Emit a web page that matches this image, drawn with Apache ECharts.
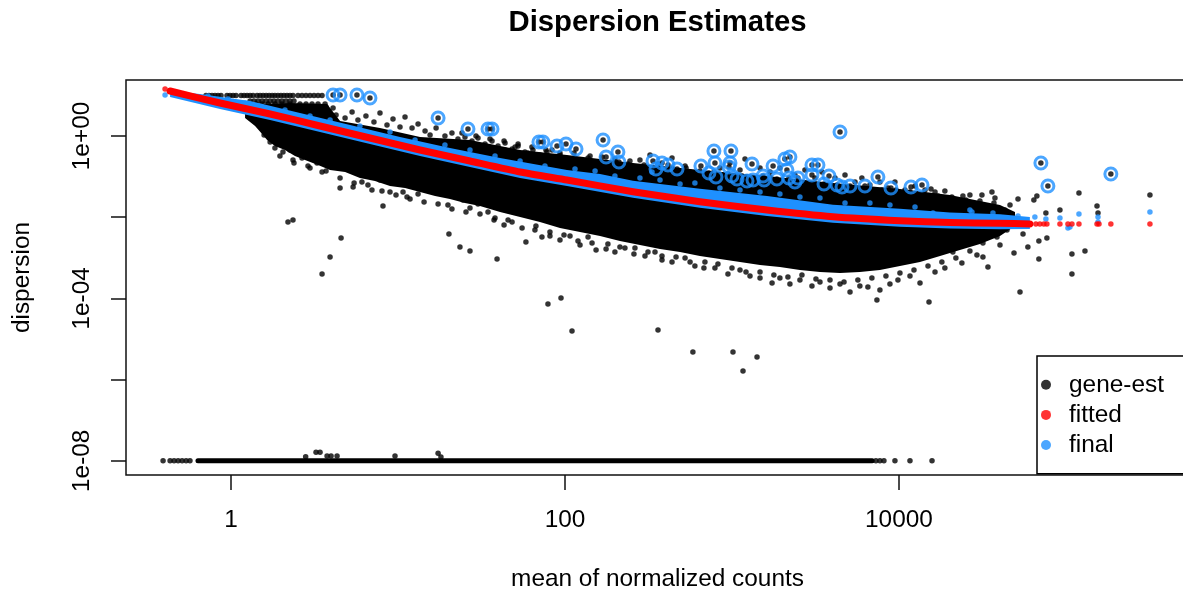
<!DOCTYPE html>
<html><head><meta charset="utf-8">
<script src="https://cdn.jsdelivr.net/npm/echarts@6/dist/echarts.min.js"></script>
<style>html,body{margin:0;padding:0;background:#fff}#c{width:1183px;height:593px}</style>
</head><body><div id="c"></div>
<script>
// All values are log10(mean of normalized counts) and log10(dispersion).
const xTickValues = [0, 2, 4];
const xTickLabels = ['1', '100', '10000'];
const yTickValues = [-8, -6, -4, -2, 0];
const yLabelValues = [-8, -4, 0];
const yTickLabels = ['1e-08', '1e-04', '1e+00'];
const legendNames = ['gene-est', 'fitted', 'final'];

// gene-est: genes at the maximum dispersion (10, log10 = 1)
const topRowMeans = [-0.150,-0.132,-0.114,-0.096,-0.078,-0.060,-0.024,-0.006,0.012,0.030,0.060,0.078,0.096,0.114,0.132,0.156,0.174,0.192,0.210,0.228,0.246,0.263,0.281,0.299,0.317,0.335,0.353,0.371,0.401,0.425,0.449,0.473,0.497,0.521,0.545];
const rowBMeans = [0.114,0.138,0.162,0.186,0.210,0.234,0.257,0.281,0.305,0.329,0.353,0.377];
const rowBDisp = 0.862;
const rowCMeans = [0.150,0.186,0.222,0.263,0.305,0.353,0.413,0.449,0.485,0.521,0.563];
const rowCDisp = 0.788;

// gene-est points above the fitted trend
const geneEstUpper = [[0.186,0.690],[0.234,0.640],[0.287,0.714],[0.341,0.616],[0.389,0.690],[0.443,0.591],[0.491,0.665],[0.533,0.542],[0.569,0.714],[0.611,0.690],[0.629,0.517],[0.683,0.443],[0.725,0.591],[0.760,0.394],[0.808,0.493],[0.856,0.345],[0.892,0.567],[0.934,0.271],[0.970,0.419],[1.012,0.222],[1.042,0.468],[1.084,0.197],[1.120,0.296],[1.162,0.123],[1.192,0.025],[1.228,0.197],[1.281,0.000],[1.323,0.074],[1.359,-0.074],[1.401,-0.025],[1.443,-0.123],[1.479,-0.049],[1.521,-0.197],[1.563,-0.123],[1.599,-0.246],[1.641,-0.172],[1.683,-0.320],[1.719,-0.246],[1.760,-0.394],[1.808,-0.345],[1.850,-0.468],[1.892,-0.394],[1.928,-0.542],[1.970,-0.468],
[1.641,-0.345],[1.701,-0.271],[1.778,-0.419],[1.880,-0.493],[1.922,-0.345],[2.060,-0.542],[2.150,-0.493],[2.210,-0.640],[2.299,-0.567],[2.377,-0.690],[2.449,-0.591],[2.509,-0.468],[2.599,-0.837],[2.641,-0.542],[2.719,-0.739],[2.749,-0.887],[2.928,-0.788],[3.048,-0.837],[3.078,-0.567],[3.168,-0.788],[3.228,-0.887],[3.287,-0.788],[3.377,-0.961],[3.437,-0.837],[3.497,-1.034],[3.539,-0.887],[3.617,-1.034],[3.677,-0.961],[3.737,-1.133],[3.778,-1.034],[3.826,-1.207],[3.886,-1.133],[3.934,-1.281],[3.976,-1.133],[4.036,-1.330],[4.096,-1.232],[4.156,-1.330],[4.216,-1.379],[4.275,-1.355],
[4.192,-1.305],[4.383,-1.478],[4.425,-1.453],[4.497,-1.453],[4.557,-1.379],[4.575,-1.527],[4.713,-1.552],[4.808,-1.576],[4.826,-1.478],[4.880,-1.897],[4.964,-1.823],[5.078,-1.404],[5.186,-1.724],[5.192,-1.897],[5.503,-1.453],[4.665,-1.700],[4.635,-1.823],
[1.383,0.074],[1.467,0.000],[1.551,-0.074],[1.635,-0.123],[1.719,-0.197],[1.802,-0.271],[1.886,-0.345],[1.970,-0.419],[2.054,-0.419],[2.138,-0.542],[2.222,-0.517],[2.305,-0.640],[2.389,-0.616],[2.473,-0.714],[2.557,-0.690],[2.641,-0.788],[2.725,-0.788],[2.808,-0.862],[2.892,-0.887],[2.976,-0.936],[3.060,-0.985],[3.144,-1.034],[3.228,-1.010],[3.311,-1.108],[3.395,-1.158],[3.479,-1.182],[3.563,-1.232],[3.647,-1.256],[3.731,-1.281],[3.814,-1.305],[3.898,-1.330],[3.982,-1.330],[4.066,-1.379],[4.150,-1.429],[4.234,-1.478],[4.317,-1.502],[4.401,-1.576],[4.485,-1.601],[4.569,-1.650]];

// gene-est points below the fitted trend
const geneEstLower = [[0.198,0.025],[0.234,-0.148],[0.263,-0.296],[0.293,-0.099],[0.311,-0.394],[0.353,-0.345],[0.371,-0.591],[0.425,-0.542],[0.473,-0.788],[0.515,-0.665],[0.545,-0.887],[0.653,-1.281],[0.731,-1.256],[0.784,-1.133],[0.844,-1.330],[0.892,-1.084],[0.952,-1.379],[1.030,-1.379],[1.054,-1.502],[1.120,-1.429],[1.299,-1.700],[1.389,-1.576],[1.431,-1.773],[1.479,-1.675],[1.539,-1.872],[1.581,-2.020],[1.635,-2.192],[1.683,-2.118],[1.766,-2.611],[1.820,-2.315],[1.862,-2.488],[1.910,-2.365],[1.970,-2.562],[2.030,-2.463],[2.090,-2.685],[2.138,-2.488],[2.186,-2.808],[2.257,-2.660],[2.299,-2.857],[2.359,-2.759],[2.419,-2.759],[2.479,-2.956],[2.539,-2.857],[2.581,-2.956],[2.641,-3.103],[2.719,-3.005],[2.778,-3.202],[2.838,-3.103],[2.898,-3.251],[2.976,-3.399],[3.048,-3.300],[3.108,-3.448],[3.168,-3.350],[3.240,-3.621],[3.287,-3.498],[3.347,-3.645],[3.407,-3.547],[3.479,-3.695],[3.527,-3.596],[3.587,-3.744],[3.647,-3.645],[3.707,-3.842],[3.766,-3.695],[3.814,-3.719],[3.868,-4.039],[3.886,-3.793],[3.946,-3.645],[3.994,-3.547],[4.066,-3.448],[4.126,-3.621],[4.180,-4.089],[4.216,-3.350],[4.275,-3.251],[4.323,-2.857],[4.365,-2.685],[4.377,-3.128],[4.407,-2.488],[4.467,-2.931],[4.485,-2.389],[4.503,-2.635],[4.503,-2.980],[4.533,-3.227],[4.587,-2.488],[4.605,-2.685],[4.647,-2.315],[4.689,-2.882],[4.743,-2.414],[4.772,-2.734],[4.838,-2.586],[4.838,-3.030],[4.886,-2.512],[5.036,-2.906],
[0.293,-0.493],[0.377,-0.665],[0.461,-0.739],[0.569,-0.862],[0.653,-1.034],[0.737,-1.158],[0.820,-1.207],[0.904,-1.355],[0.988,-1.453],[1.072,-1.552],[1.156,-1.626],[1.240,-1.675],[1.323,-1.798],[1.407,-1.872],[1.491,-1.921],[1.575,-2.069],[1.659,-2.069],[1.743,-2.266],[1.826,-2.217],[1.910,-2.463],[1.994,-2.438],[2.078,-2.586],[2.162,-2.635],[2.246,-2.783],[2.329,-2.734],[2.413,-2.906],[2.497,-2.857],[2.581,-3.054],[2.665,-2.980],[2.749,-3.103],[2.832,-3.251],[2.916,-3.153],[3.000,-3.251],[3.084,-3.350],[3.168,-3.498],[3.251,-3.424],[3.335,-3.473],[3.419,-3.424],[3.503,-3.522],[3.587,-3.547],[3.671,-3.596],[3.754,-3.547],[3.838,-3.498],[3.922,-3.448],[4.006,-3.374],[4.090,-3.300],[4.174,-3.202],[4.257,-3.103],[4.341,-3.005],[4.425,-2.833]];

// isolated low gene-est values
const geneEstLowOutliers = [[0.341,-2.118],[0.371,-2.069],[0.659,-2.512],[0.593,-2.980],[0.545,-3.399],[0.910,-1.724],[1.305,-2.414],[1.371,-2.734],[1.431,-2.833],[1.593,-3.030],[1.898,-4.138],[1.976,-3.990],[2.042,-4.803],[2.557,-4.778],[2.766,-5.320],[3.006,-5.320],[3.150,-5.443],[3.066,-5.788],[4.725,-3.842],[5.036,-3.399],[5.114,-2.833]];

// gene-est values at / just above the lower bound (1e-08)
const nearZeroPoints = [[0.447,-7.90],[0.509,-7.79],[0.533,-7.79],[0.575,-7.88],[0.599,-7.88],[0.635,-7.88],[0.982,-7.88],[1.240,-7.815],[1.257,-7.906]];
const zeroDispMeans = [-0.407,-0.365,-0.341,-0.317,-0.293,-0.269,-0.246,3.862,3.886,3.910,3.976,4.066,4.198];
const zeroDispRuns = [[-0.198, 3.84]];
const zeroDisp = -8;

// dense body of gene-est values (outline of the solid region)
const coreMeans = [0.084,0.144,0.353,0.575,0.653,0.892,1.132,1.431,1.731,2.012,2.407,2.808,3.210,3.605,4.006,4.305,4.605,4.695];
const coreUpper = [0.739,0.788,0.813,0.788,0.369,0.197,-0.025,-0.099,-0.345,-0.468,-0.665,-0.837,-0.985,-1.158,-1.305,-1.453,-1.700,-1.872];
const coreLowerMeans = [0.084,0.144,0.186,0.216,0.263,0.323,0.383,0.443,0.521,0.593,0.683,0.772,0.862,0.952,1.042,1.132,1.222,1.311,1.401,1.491,1.611,1.731,1.850,1.970,2.090,2.210,2.329,2.449,2.569,2.689,2.808,2.928,3.048,3.168,3.287,3.407,3.527,3.647,3.766,3.886,4.006,4.126,4.246,4.365,4.485,4.605,4.695];
const coreLower = [0.443,0.246,0.049,-0.099,-0.246,-0.345,-0.493,-0.591,-0.714,-0.837,-0.887,-1.034,-1.108,-1.232,-1.281,-1.379,-1.478,-1.552,-1.650,-1.724,-1.872,-1.995,-2.118,-2.266,-2.365,-2.463,-2.586,-2.685,-2.783,-2.857,-2.956,-3.030,-3.103,-3.177,-3.227,-3.300,-3.350,-3.374,-3.350,-3.300,-3.202,-3.103,-2.956,-2.808,-2.660,-2.463,-2.217];

// dispersion outliers (final = gene-est, drawn as open circles)
const outlierGenes = [[0.611,1.010],[0.653,1.010],[0.754,1.010],[0.832,0.936],[1.240,0.443],[1.419,0.172],[1.539,0.172],[1.563,0.172],[1.844,-0.148],[1.868,-0.148],[1.952,-0.246],[2.006,-0.197],[2.066,-0.320],[2.228,-0.099],[2.246,-0.517],[2.317,-0.394],[2.323,-0.640],[2.527,-0.616],[2.545,-0.813],[2.581,-0.665],[2.617,-0.714],[2.671,-0.813],[2.814,-0.739],[2.862,-0.911],[2.892,-0.369],[2.898,-0.665],[2.904,-1.010],[2.994,-0.369],[2.988,-0.665],[2.982,-0.764],[3.000,-0.985],[3.030,-1.059],[3.090,-1.108],[3.120,-0.690],[3.126,-1.084],[3.186,-0.985],[3.192,-1.084],[3.246,-0.739],[3.269,-1.059],[3.317,-0.567],[3.347,-0.517],[3.329,-0.837],[3.341,-1.034],[3.377,-1.133],[3.395,-1.034],[3.479,-0.714],[3.515,-0.714],[3.479,-0.961],[3.551,-1.182],[3.581,-0.985],[3.629,-1.207],[3.659,-1.256],[3.707,-1.232],[3.647,0.099],[3.796,-1.232],[3.874,-1.010],[3.952,-1.281],[4.072,-1.256],[4.138,-1.207],[4.850,-0.665],[4.892,-1.232],[5.269,-0.936]];

// final (shrunken) dispersions: dense band outline and separate points
const finalBandMeans = [-0.365,-0.186,0.114,0.413,0.713,1.012,1.311,1.611,2.012,2.210,2.407,2.808,3.210,3.605,4.006,4.305,4.605,4.784];
const finalBandUpper = [1.108,1.034,0.862,0.567,0.271,-0.025,-0.296,-0.542,-0.837,-0.936,-1.101,-1.298,-1.478,-1.692,-1.791,-1.884,-1.929,-1.995];
const finalBandLowerMeans = [-0.365,-0.066,0.234,0.533,0.832,1.132,1.431,1.731,2.012,2.407,2.808,3.210,3.605,4.006,4.305,4.605,4.784];
const finalBandLower = [0.961,0.665,0.394,0.099,-0.197,-0.493,-0.764,-1.034,-1.232,-1.520,-1.766,-1.970,-2.135,-2.234,-2.278,-2.298,-2.291];
const finalPoints = [[-0.395,1.010],[-0.138,0.985],[-0.018,0.911],[0.084,0.813],[0.186,0.714],[0.323,0.640],[0.473,0.493],[0.593,0.394],[0.772,0.246],[0.952,0.099],[1.102,-0.099],[1.281,-0.222],[1.431,-0.345],[1.581,-0.493],[1.731,-0.616],[1.880,-0.739],[2.060,-0.813],[2.180,-0.862],[2.299,-0.985],[2.449,-1.034],[2.521,-0.887],[2.569,-1.084],[2.689,-1.182],[2.778,-1.158],[2.928,-1.281],[3.048,-1.330],[3.168,-1.379],[3.287,-1.429],[3.407,-1.502],[3.527,-1.527],[3.677,-1.650],[3.826,-1.650],[3.946,-1.700],[4.096,-1.749],[4.204,-1.897],[4.425,-1.823],[4.437,-1.872],[4.563,-1.897],[4.713,-1.970],[4.814,-1.995],[4.880,-2.044],[4.964,-2.020],[5.012,-2.266],[5.024,-2.241],[5.078,-1.921],[5.192,-1.995],[5.192,-2.118],[5.503,-1.872]];

// fitted trend
const fittedCurve = [[-0.365,1.108],[-0.066,0.813],[0.234,0.542],[0.533,0.246],[0.832,-0.049],[1.132,-0.345],[1.431,-0.616],[1.731,-0.887],[2.012,-1.084],[2.407,-1.372],[2.808,-1.618],[3.210,-1.823],[3.605,-1.988],[4.006,-2.086],[4.305,-2.131],[4.605,-2.150],[4.784,-2.167]];
const fittedPoints = [[-0.395,1.158],[4.820,-2.167],[4.844,-2.167],[4.868,-2.167],[4.886,-2.167],[4.964,-2.167],[5.012,-2.167],[5.036,-2.167],[5.078,-2.167],[5.186,-2.167],[5.198,-2.167],[5.269,-2.167],[5.503,-2.167]];

const FONT = '"Liberation Sans", Arial, Helvetica, sans-serif';
const BLACK = '#000000', RED = '#FF0000', BLUE = '#1E90FF';
const FS = 24.4;

function lookup(vals, labels, v) {
  for (let i = 0; i < vals.length; i++) if (Math.abs(vals[i] - v) < 1e-6) return labels[i];
  return '';
}

const geneEst = [].concat(
  topRowMeans.map(m => [m, 1.0]),
  rowBMeans.map(m => [m, rowBDisp]),
  rowCMeans.map(m => [m, rowCDisp]),
  geneEstUpper, geneEstLower, geneEstLowOutliers, nearZeroPoints,
  zeroDispMeans.map(m => [m, zeroDisp]),
  outlierGenes
);

function polygonSeries(name, xsU, ups, xsL, lows, color, z) {
  return {
    type: 'custom', name: name, z: z, silent: true,
    data: [[xsU[0], ups[0]]],
    renderItem: function (params, api) {
      const pts = [];
      for (let i = 0; i < xsU.length; i++) pts.push(api.coord([xsU[i], ups[i]]));
      for (let i = xsL.length - 1; i >= 0; i--) pts.push(api.coord([xsL[i], lows[i]]));
      return { type: 'polygon', shape: { points: pts }, style: { fill: color } };
    }
  };
}

const chart = echarts.init(document.getElementById('c'), null, { renderer: 'canvas', width: 1183, height: 593 });
chart.setOption({
  animation: false,
  backgroundColor: '#ffffff',
  title: {
    text: 'Dispersion Estimates', left: 657.5, top: 8, textAlign: 'center', padding: 0,
    textStyle: { fontFamily: FONT, fontSize: 29.3, fontWeight: 'bold', color: BLACK }
  },
  legend: {
    data: legendNames.map(n => ({ name: n, icon: 'circle' })),
    orient: 'vertical', left: 1037, top: 356,
    itemWidth: 36, itemHeight: 10, itemGap: 6.1,
    padding: [16.8, 40, 16.8, 4],
    borderColor: BLACK, borderWidth: 1.5, backgroundColor: '#ffffff',
    selectedMode: false,
    textStyle: { fontFamily: FONT, fontSize: FS, color: BLACK }
  },
  grid: {
    left: 126, top: 80, right: -6, bottom: 118,
    show: true, borderColor: '#111', borderWidth: 1.5, backgroundColor: 'transparent',
    containLabel: false, outerBoundsMode: 'none'
  },
  xAxis: {
    type: 'value', min: -0.629, max: 5.737,
    splitLine: { show: false }, axisLine: { show: false, onZero: false },
    axisTick: { show: true, customValues: xTickValues, length: 15, inside: false, lineStyle: { color: '#111', width: 1.5 } },
    axisLabel: { customValues: xTickValues, margin: 33, fontFamily: FONT, fontSize: FS, color: BLACK,
      formatter: v => lookup(xTickValues, xTickLabels, v) },
    name: 'mean of normalized counts', nameLocation: 'middle', nameGap: 92.3,
    nameTextStyle: { fontFamily: FONT, fontSize: FS, color: BLACK }
  },
  yAxis: {
    type: 'value', min: -8.35, max: 1.379,
    splitLine: { show: false }, axisLine: { show: false, onZero: false },
    axisTick: { show: true, customValues: yTickValues, length: 15, inside: false, lineStyle: { color: '#111', width: 1.5 } },
    axisLabel: { customValues: yLabelValues, rotate: 90, margin: 32, fontFamily: FONT, fontSize: FS, color: BLACK,
      formatter: v => lookup(yLabelValues, yTickLabels, v) },
    name: 'dispersion', nameLocation: 'middle', nameGap: 92, nameRotate: 90,
    nameTextStyle: { fontFamily: FONT, fontSize: FS, color: BLACK }
  },
  series: [
    polygonSeries('gene-est-dense', coreMeans, coreUpper, coreLowerMeans, coreLower, BLACK, 1),
    {
      type: 'custom', name: 'gene-est-zero', z: 2, silent: true,
      data: zeroDispRuns.map(r => [r[0], r[1], zeroDisp]),
      renderItem: function (params, api) {
        const a = api.coord([api.value(0), api.value(2)]);
        const b = api.coord([api.value(1), api.value(2)]);
        return { type: 'line', shape: { x1: a[0], y1: a[1], x2: b[0], y2: b[1] },
          style: { stroke: BLACK, lineWidth: 5, lineCap: 'round' } };
      }
    },
    { type: 'scatter', name: 'gene-est', z: 3, data: geneEst, symbol: 'circle', symbolSize: 5.5,
      itemStyle: { color: BLACK }, silent: true },
    polygonSeries('final-dense', finalBandMeans, finalBandUpper, finalBandLowerMeans, finalBandLower, BLUE, 4),
    { type: 'scatter', name: 'final', z: 5, data: finalPoints, symbol: 'circle', symbolSize: 5.5,
      itemStyle: { color: BLUE }, silent: true },
    { type: 'scatter', name: 'final-outlier', z: 6, data: outlierGenes, symbol: 'circle', symbolSize: 12,
      itemStyle: { color: 'rgba(0,0,0,0)', borderColor: BLUE, borderWidth: 3 }, silent: true },
    { type: 'line', name: 'fitted-curve', z: 7, data: fittedCurve, showSymbol: false, symbol: 'none', smooth: 0.2,
      lineStyle: { color: RED, width: 7, cap: 'round', join: 'round' }, itemStyle: { color: RED }, silent: true },
    { type: 'scatter', name: 'fitted', z: 8, data: fittedPoints, symbol: 'circle', symbolSize: 5.5,
      itemStyle: { color: RED }, silent: true }
  ]
});
</script>
</body></html>
